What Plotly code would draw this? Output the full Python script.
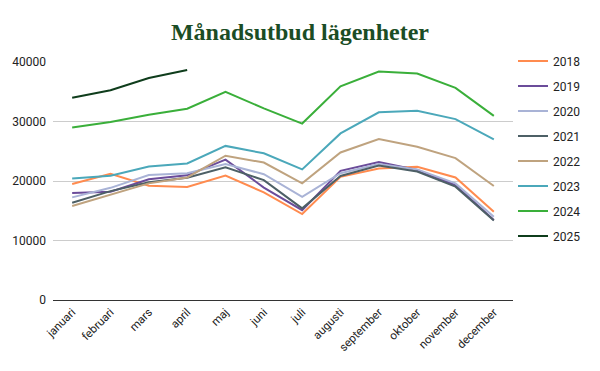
import plotly.graph_objects as go

months = ["januari", "februari", "mars", "april", "maj", "juni", "juli",
          "augusti", "september", "oktober", "november", "december"]

y2018 = [19500, 21200, 19200, 19000, 20900, 18100, 14450, 20700, 22100, 22400, 20600, 14850]
y2019 = [18000, 18200, 20300, 20950, 23600, 18900, 15100, 21700, 23200, 21850, 19300, 13450]
y2020 = [17250, 18850, 21000, 21300, 22850, 21150, 17350, 21300, 22850, 21950, 19600, 14000]
y2021 = [16350, 18300, 19800, 20550, 22300, 20150, 15400, 20850, 22600, 21600, 19050, 13350]
y2022 = [15800, 17750, 19600, 20600, 24250, 23100, 19600, 24800, 27050, 25750, 23850, 19150]
y2023 = [20400, 20900, 22450, 22950, 25900, 24650, 21950, 28000, 31550, 31800, 30400, 27000]
y2024 = [29000, 29900, 31150, 32150, 35000, 32200, 29650, 35900, 38400, 38050, 35650, 30950]
y2025 = [34000, 35250, 37300, 38650]

series = [
    ("2018", y2018, "#FF8B4F"),
    ("2019", y2019, "#6B4C9A"),
    ("2020", y2020, "#A9B3D6"),
    ("2021", y2021, "#4D6066"),
    ("2022", y2022, "#BFA37F"),
    ("2023", y2023, "#4BA8BA"),
    ("2024", y2024, "#3AAF3A"),
    ("2025", y2025, "#0F3D1C"),
]

fig = go.Figure()
for name, vals, color in series:
    fig.add_trace(go.Scatter(
        x=months[:len(vals)], y=vals, name=name, mode="lines",
        line=dict(color=color, width=2), legendgroup=name,
    ))

fig.update_layout(
    width=600, height=371,
    margin=dict(l=53, r=87, t=62, b=71, autoexpand=False),
    paper_bgcolor="white", plot_bgcolor="white",
    title=dict(text="<b>Månadsutbud lägenheter</b>", x=0.5, xanchor="center",
               y=0.915, yanchor="middle",
               font=dict(family="Liberation Serif, DejaVu Serif, serif", size=24, color="#1B4D25")),
    font=dict(family="Roboto, Arial, sans-serif", size=12, color="#222222"),
    showlegend=True,
    legend=dict(x=1.0, y=1.065, xanchor="left", yanchor="top",
                tracegroupgap=6, font=dict(size=12, color="#222222"),
                bgcolor="rgba(0,0,0,0)", itemwidth=30, maxheight=320),
    xaxis=dict(type="category", categoryorder="array", categoryarray=months,
               range=[-0.5, len(months) - 0.5], tickangle=-45, showgrid=False, showline=True,
               automargin=False,
               linecolor="#333333", linewidth=1, ticks="", tickfont=dict(size=11.5, color="#222222")),
    yaxis=dict(range=[0, 40000], tickvals=[0, 10000, 20000, 30000, 40000],
               ticktext=["0", "10000", "20000", "30000", "40000"],
               automargin=False,
               showgrid=True, gridcolor="#CCCCCC", gridwidth=1, zeroline=False,
               showline=False, ticks="", ticklabelstandoff=6,
               tickfont=dict(size=12, color="#222222")),
)

fig.write_html("out.html", config={"displayModeBar": False},
               post_script="document.body.style.margin='0';document.body.style.overflow='hidden';")
